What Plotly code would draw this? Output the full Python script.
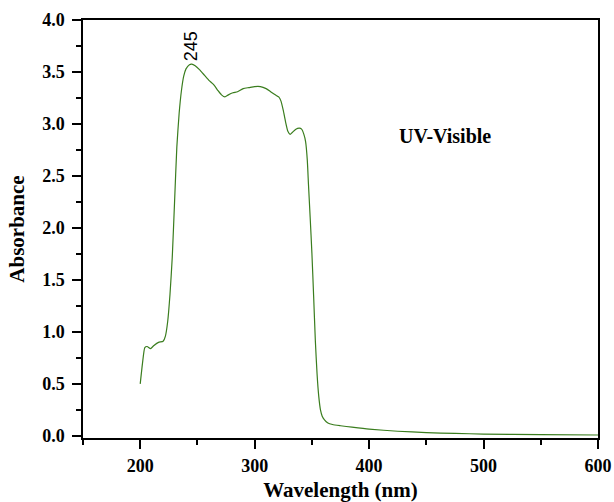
import plotly.graph_objects as go

wavelength = [200, 202, 204, 206, 209, 212, 216, 220, 222, 224, 226, 228, 230, 232, 234, 236, 238, 240,
              243, 245, 248, 252, 256, 260, 264, 268, 271, 274, 277, 281, 285, 290, 295, 300, 305, 310,
              314, 318, 321, 323, 325, 327, 329, 331, 333, 336, 339, 341, 343, 344.5, 346, 347, 348.5,
              350, 351.5, 353, 354.5, 356, 357.5, 359, 361, 364, 368, 375, 385, 400, 425, 450, 475,
              500, 550, 600]
absorbance = [0.50, 0.70, 0.85, 0.86, 0.84, 0.87, 0.90, 0.91, 0.96, 1.10, 1.36, 1.72, 2.25, 2.78, 3.10,
              3.32, 3.46, 3.53, 3.57, 3.575, 3.56, 3.52, 3.47, 3.42, 3.38, 3.32, 3.28, 3.26, 3.28, 3.30,
              3.31, 3.34, 3.35, 3.36, 3.36, 3.34, 3.31, 3.28, 3.26, 3.22, 3.13, 3.02, 2.93, 2.90, 2.92,
              2.95, 2.96, 2.95, 2.90, 2.83, 2.65, 2.42, 2.10, 1.76, 1.35, 0.92, 0.60, 0.38, 0.25, 0.19,
              0.155, 0.125, 0.11, 0.098, 0.084, 0.065, 0.045, 0.032, 0.024, 0.018, 0.012, 0.009]

peak_label = "245"
peak_x = 244
peak_y = 3.58
inset_label = "UV-Visible"

serif = "Liberation Serif, Times New Roman, serif"

fig = go.Figure()
fig.add_trace(go.Scatter(x=wavelength, y=absorbance, mode="lines",
                         line=dict(color="#3a7d1e", width=1.2, shape="spline", smoothing=0.5),
                         showlegend=False))

fig.add_annotation(x=peak_x, y=peak_y, text=peak_label, textangle=-90, showarrow=False,
                   xanchor="center", yanchor="bottom",
                   font=dict(family="Liberation Sans, Arial, sans-serif", size=18, color="black"))
fig.add_annotation(x=466, y=2.88, text=inset_label, showarrow=False,
                   font=dict(family=serif, size=20, color="black", weight="bold"))

fig.update_xaxes(range=[150, 600], tick0=0, dtick=100, ticks="outside", ticklen=9, tickwidth=1.5,
                 tickcolor="black", showline=True, linecolor="black", linewidth=1.5, mirror=True,
                 showgrid=False, zeroline=False, automargin=False,
                 minor=dict(dtick=50, tick0=0, ticks="outside", ticklen=5, tickwidth=1.5, tickcolor="black"),
                 tickfont=dict(family=serif, size=18, color="black", weight="bold"),
                 ticklabelstandoff=2,
                 title=dict(text="Wavelength (nm)", standoff=12,
                            font=dict(family=serif, size=21, color="black", weight="bold")))
fig.update_yaxes(range=[-0.02, 4.0], tick0=0, dtick=0.5, tickformat=".1f", ticks="outside", ticklen=9,
                 tickwidth=1.5, tickcolor="black", showline=True, linecolor="black", linewidth=1.5,
                 mirror=True, showgrid=False, zeroline=False, automargin=False,
                 minor=dict(dtick=0.25, tick0=0, ticks="outside", ticklen=5, tickwidth=1.5, tickcolor="black"),
                 tickfont=dict(family=serif, size=18, color="black", weight="bold"),
                 ticklabelstandoff=4,
                 title=dict(text="Absorbance", standoff=12,
                            font=dict(family=serif, size=21, color="black", weight="bold")))

fig.update_layout(width=614, height=502, margin=dict(l=83, r=16, t=20, b=64),
                  plot_bgcolor="white", paper_bgcolor="white")

fig.write_html("out.html")
